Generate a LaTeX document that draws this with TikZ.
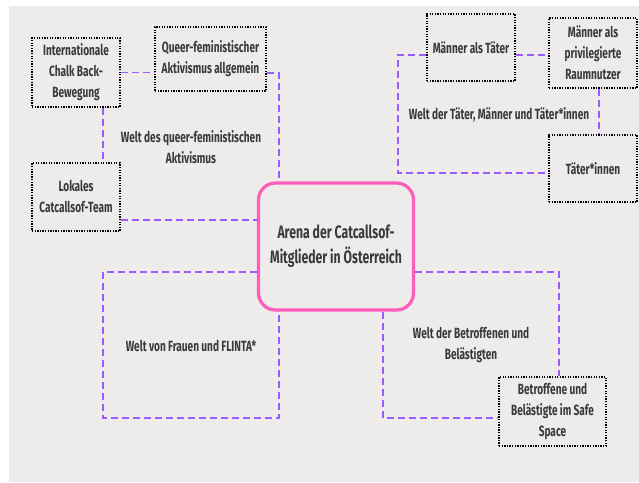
\documentclass[tikz,border=0pt]{standalone}
\usepackage{fontspec}
\setmainfont{Fira Sans}[FakeStretch=0.68]
\begin{document}
\definecolor{bgpaper}{HTML}{EDECEB}
\definecolor{linkpurple}{HTML}{9A5CFF}
\definecolor{arenapink}{HTML}{FF5DBA}
\definecolor{inktext}{HTML}{3A3A3A}
\tikzset{
  actor/.style={draw=black, line width=1.7pt, dash pattern=on 1.3pt off 1.3pt,
    align=center, text=inktext, font=\fontsize{14.8}{21}\selectfont\bfseries, inner sep=2pt},
  arena/.style={draw=arenapink, line width=3.2pt, rounded corners=17pt, fill=bgpaper,
    align=center, text=inktext, font=\fontsize{18}{25}\selectfont\bfseries},
  link/.style={draw=linkpurple, line width=1.7pt, dash pattern=on 7pt off 4pt},
  worldlabel/.style={align=center, text=inktext, font=\fontsize{14.8}{21}\selectfont\bfseries}
}
\begin{tikzpicture}[x=1pt,y=-1pt]
  \useasboundingbox (0,0) rectangle (639,482);
  \fill[white] (0,0) rectangle (639,482);
  \fill[bgpaper] (9,6) rectangle (639,482);

  % world of queer-feminist activism
  \node[actor, minimum width=88pt, minimum height=69pt] (intl) at (76,72.5)
    {Internationale\\Chalk Back-\\Bewegung};
  \node[actor, minimum width=111pt, minimum height=64pt] (queer) at (210.5,59)
    {Queer-feministischer\\Aktivismus allgemein};
  \node[actor, minimum width=88pt, minimum height=68pt] (lokal) at (76,197)
    {Lokales\\Catcallsof-Team};
  \node[worldlabel] (wqueer) at (191,147) {Welt des queer-feministischen\\Aktivismus};

  % central arena
  \node[arena, minimum width=155pt, minimum height=127pt] (arena) at (336,246.5)
    {Arena der Catcallsof-\\Mitglieder in Österreich};

  % world of perpetrators
  \node[actor, minimum width=88pt, minimum height=67pt] (mtat) at (471,47.5)
    {Männer als Täter};
  \node[actor, minimum width=88pt, minimum height=70pt] (raum) at (593,53)
    {Männer als\\privilegierte\\Raumnutzer};
  \node[actor, minimum width=88pt, minimum height=67pt] (taeter) at (593,168.5)
    {Täter*innen};
  \node[worldlabel] (wtaeter) at (499,115) {Welt der Täter, Männer und Täter*innen};

  % world of women and FLINTA*
  \node[worldlabel] (wflinta) at (191,346) {Welt von Frauen und FLINTA*};

  % world of those affected
  \node[actor, minimum width=107pt, minimum height=69pt] (safe) at (552.5,411.5)
    {Betroffene und\\Belästigte im Safe\\Space};
  \node[worldlabel] (wbetr) at (471,345.5) {Welt der Betroffenen und\\Belästigten};

  % bend points of the dashed connectors
  \coordinate (qa) at (279,73);
  \coordinate (ib) at (103,0);
  \coordinate (lr) at (0,220);
  \coordinate (ta) at (0,55);
  \coordinate (tb) at (398,55);
  \coordinate (tc) at (398,173);
  \coordinate (rd) at (599,0);
  \coordinate (fa) at (103,272);
  \coordinate (fb) at (103,418);
  \coordinate (fc) at (279,418);
  \coordinate (ba) at (559,272);
  \coordinate (bb) at (383,418);

  \draw[link] (intl.east) -- (intl.east -| queer.west);
  \draw[link] (queer.east |- qa) -- (qa) -- (qa |- arena.north);
  \draw[link] (intl.south -| ib) -- (lokal.north -| ib);
  \draw[link] (lokal.east |- lr) -- (arena.west |- lr);

  \draw[link] (mtat.east |- ta) -- (raum.west |- ta);
  \draw[link] (mtat.west |- ta) -- (tb) -- (tc) -- (taeter.west |- tc);
  \draw[link] (raum.south -| rd) -- (taeter.north -| rd);

  \draw[link] (arena.west |- fa) -- (fa) -- (fb) -- (fc) -- (fc |- arena.south);

  \draw[link] (arena.east |- ba) -- (ba) -- (ba |- safe.north);
  \draw[link] (bb |- arena.south) -- (bb) -- (safe.west |- bb);
\end{tikzpicture}
\end{document}
